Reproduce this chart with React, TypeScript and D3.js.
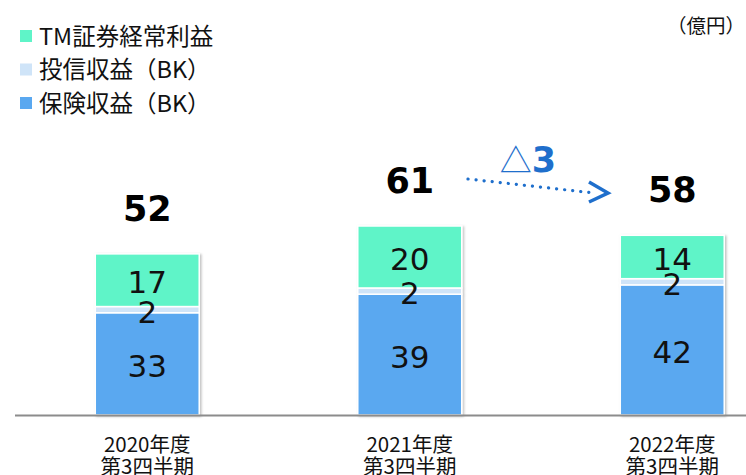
import React from "react";
import * as d3 from "d3";

const categories = ["2020年度", "2021年度", "2022年度"];
const categorySub = ["第3四半期", "第3四半期", "第3四半期"];
const insurance = [33, 39, 42];
const investment = [2, 2, 2];
const tmSecurities = [17, 20, 14];
const totals = [52, 61, 58];
const seriesNames = ["TM証券経常利益", "投信収益（BK）", "保険収益（BK）"];
const deltaLabel = "△3";
const unitLabel = "（億円）";

const W = 746;
const H = 475;
const COLORS = { tm: "#5ff4c8", inv: "#cfe4f8", ins: "#5aa8f0" };
const JP = "'Noto Sans CJK JP', 'Noto Sans', sans-serif";
const NUM = "'DejaVu Sans', Verdana, sans-serif";

export default function App() {
  const x = d3.scaleBand<string>().domain(categories).range([16, 803.5]).paddingInner(0.604).paddingOuter(0.302);
  const y = d3.scaleLinear().domain([0, 61]).range([415, 226]);
  const bw = x.bandwidth();

  const stackData = categories.map((c, i) => ({ c, ins: insurance[i], inv: investment[i], tm: tmSecurities[i] }));
  const stack = d3.stack<any>().keys(["ins", "inv", "tm"])(stackData);

  const legend = [
    { name: seriesNames[0], color: COLORS.tm },
    { name: seriesNames[1], color: COLORS.inv },
    { name: seriesNames[2], color: COLORS.ins },
  ];

  const arrowStart: [number, number] = [468, 179];
  const arrowEnd: [number, number] = [600, 193];

  return (
    <svg width={W} height={H} style={{ position: "absolute", left: 0, top: 0, background: "#fff" }}>
      <defs>
        <filter id="sh" x="-10%" y="-10%" width="130%" height="130%">
          <feDropShadow dx="1.5" dy="1" stdDeviation="1.2" floodColor="#000" floodOpacity="0.25" />
        </filter>
      </defs>
      {/* legend */}
      {legend.map((l, i) => (
        <g key={l.name} transform={`translate(20, ${36 + i * 33.5})`}>
          <rect x={0} y={-6} width={12} height={12} fill={l.color} />
          <text x={19} y={8.5} fontFamily={JP} fontSize={23.5} fill="#111">{l.name}</text>
        </g>
      ))}
      <text x={745} y={33} textAnchor="end" fontFamily={JP} fontSize={19.5} fill="#111">{unitLabel}</text>

      {/* bars */}
      {categories.map((c, i) => (
        <g key={c} filter="url(#sh)">
          {stack.map((s) => {
            const d = s[i];
            return (
              <rect key={s.key} x={x(c)} y={y(d[1])} width={bw} height={y(d[0]) - y(d[1])}
                fill={(COLORS as any)[s.key]} stroke="#fff" strokeWidth={1.5} />
            );
          })}
        </g>
      ))}
      {/* segment labels */}
      {categories.map((c, i) =>
        stack.map((s) => {
          const d = s[i];
          const cy = (y(d[0]) + y(d[1])) / 2;
          return (
            <text key={c + s.key} x={(x(c) as number) + bw / 2} y={cy + 13} textAnchor="middle"
              fontFamily={NUM} fontSize={31} fill="#111">{d[1] - d[0]}</text>
          );
        })
      )}
      {/* totals */}
      {categories.map((c, i) => (
        <text key={"t" + c} x={(x(c) as number) + bw / 2} y={y(totals[i]) - 33} textAnchor="middle"
          fontFamily={NUM} fontWeight="bold" fontSize={35} fill="#000">{totals[i]}</text>
      ))}

      {/* axis */}
      <line x1={15} x2={746} y1={415.5} y2={415.5} stroke="#8c8c8c" strokeWidth={1.8} />
      {categories.map((c, i) => (
        <g key={"a" + c}>
          <text x={(x(c) as number) + bw / 2} y={452} textAnchor="middle" fontFamily={JP} fontSize={20.5} fill="#111">{c}</text>
          <text x={(x(c) as number) + bw / 2} y={474} textAnchor="middle" fontFamily={JP} fontSize={20.5} fill="#111">{categorySub[i]}</text>
        </g>
      ))}

      {/* delta annotation */}
      <text x={528} y={172} textAnchor="middle" fill="#1f6fcc">
        <tspan fontFamily={JP} fontSize={32}>{deltaLabel.slice(0, 1)}</tspan>
        <tspan fontFamily={NUM} fontWeight="bold" fontSize={35}>{deltaLabel.slice(1)}</tspan>
      </text>
      <line x1={arrowStart[0]} y1={arrowStart[1]} x2={arrowEnd[0] - 6} y2={arrowEnd[1]}
        stroke="#1f6fcc" strokeWidth={3.2} strokeLinecap="round" strokeDasharray="0.1 8" />
      <path d={`M${arrowEnd[0] - 11},${arrowEnd[1] - 11} L${arrowEnd[0] + 8},${arrowEnd[1]} L${arrowEnd[0] - 11},${arrowEnd[1] + 9}`}
        fill="none" stroke="#1f6fcc" strokeWidth={3.5} strokeLinejoin="miter" />
    </svg>
  );
}
